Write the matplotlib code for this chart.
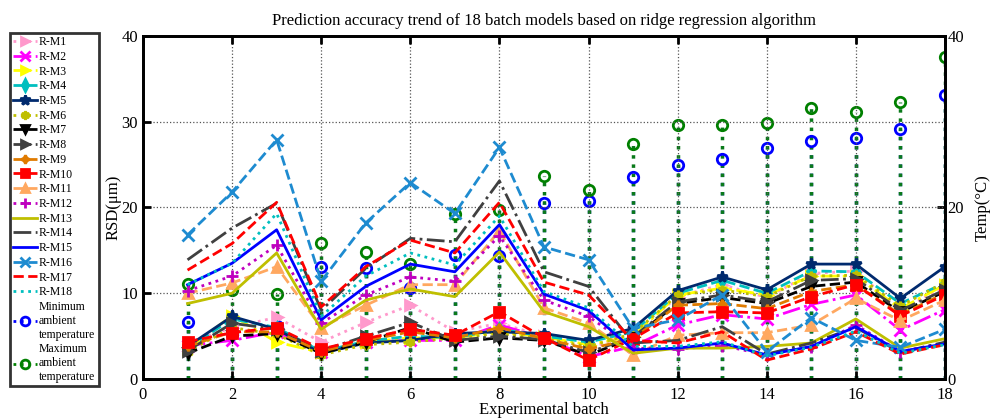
import matplotlib
matplotlib.use("Agg")
import matplotlib.pyplot as plt
import numpy as np

plt.rcParams['font.family'] = ['Liberation Serif', 'DejaVu Serif']
plt.rcParams['mathtext.fontset'] = 'stix'

batches = list(range(1, 19))

M1 = [4.2, 6.0, 7.2, 4.3, 6.6, 8.6, 5.5, 6.5, 5.0, 3.6, 5.2, 9.6, 11.0, 9.5, 12.3, 12.6, 8.0, 10.8]
M2 = [3.9, 4.5, 5.5, 3.2, 4.3, 4.5, 4.5, 6.3, 4.8, 2.6, 3.8, 6.3, 7.5, 7.0, 8.7, 9.8, 5.7, 8.1]
M3 = [3.5, 7.4, 4.3, 3.1, 4.3, 4.8, 4.8, 5.5, 4.9, 4.0, 5.0, 9.8, 10.6, 9.8, 12.0, 12.0, 8.2, 11.0]
M4 = [3.6, 7.0, 6.0, 3.2, 4.4, 5.0, 4.8, 5.8, 5.0, 4.3, 5.5, 10.0, 11.5, 10.0, 12.6, 12.5, 8.8, 11.2]
M5 = [3.8, 7.3, 5.8, 3.0, 4.2, 4.5, 5.3, 5.5, 5.3, 4.5, 5.9, 10.3, 11.9, 10.4, 13.4, 13.4, 9.4, 13.1]
M6 = [3.2, 6.0, 5.2, 2.8, 4.0, 4.3, 4.8, 5.3, 4.7, 3.8, 5.3, 9.8, 10.4, 9.6, 12.0, 12.1, 8.5, 11.3]
M7 = [3.0, 5.0, 5.3, 3.0, 4.3, 6.0, 4.3, 4.8, 4.5, 2.8, 4.8, 8.8, 9.5, 8.8, 10.8, 11.3, 7.8, 10.2]
M8 = [3.3, 6.5, 5.8, 3.3, 5.0, 6.6, 4.5, 5.0, 4.6, 3.1, 4.9, 9.0, 9.8, 9.0, 11.5, 11.7, 8.0, 10.4]
M9 = [3.8, 5.5, 5.5, 3.2, 4.5, 5.5, 4.8, 6.0, 4.7, 3.5, 4.7, 8.6, 8.8, 8.2, 10.2, 11.0, 7.5, 10.0]
M10 = [4.35, 5.4, 6.0, 3.5, 4.7, 5.8, 5.1, 7.85, 4.8, 2.2, 4.7, 7.7, 7.85, 7.7, 9.6, 11.0, 7.35, 9.8]
M11 = [10.0, 11.2, 13.1, 6.0, 8.6, 11.0, 11.0, 17.3, 8.3, 6.5, 2.8, 5.1, 5.4, 5.4, 6.3, 9.4, 6.8, 9.2]
M12 = [10.3, 12.0, 15.6, 6.5, 9.8, 11.9, 11.4, 16.7, 9.2, 7.3, 3.6, 3.5, 3.9, 2.8, 3.7, 6.3, 3.2, 4.2]
M13 = [8.8, 10.0, 14.7, 5.8, 9.2, 10.5, 9.6, 14.8, 7.85, 6.1, 3.0, 3.6, 3.6, 3.8, 4.2, 7.0, 3.6, 4.7]
M14 = [13.9, 17.6, 20.5, 8.0, 12.9, 16.4, 16.0, 23.1, 12.5, 10.8, 4.2, 4.5, 6.1, 2.9, 4.2, 6.0, 3.1, 4.3]
M15 = [11.0, 13.5, 17.4, 6.9, 10.8, 13.4, 12.5, 18.0, 9.9, 8.0, 3.4, 3.6, 4.2, 2.8, 3.8, 6.1, 3.2, 4.1]
M16 = [16.8, 21.8, 27.9, 11.4, 18.2, 22.9, 19.3, 27.0, 15.4, 13.9, 5.9, 6.9, 9.8, 3.2, 7.15, 4.5, 3.7, 5.8]
M17 = [12.7, 15.8, 20.6, 8.4, 13.1, 16.2, 14.7, 20.6, 11.3, 9.8, 4.5, 4.2, 5.5, 2.2, 3.5, 5.5, 2.9, 4.0]
M18 = [11.0, 13.5, 19.3, 7.3, 12.0, 14.7, 13.3, 19.0, 10.2, 8.3, 3.8, 3.8, 4.35, 2.7, 3.7, 5.6, 3.0, 4.0]

temp_min = [6.6, 5.3, 6.2, 13.1, 12.9, 10.6, 14.5, 14.4, 20.5, 20.8, 23.6, 25.0, 25.7, 26.9, 27.7, 28.1, 29.2, 33.1]
temp_max = [11.1, 10.4, 9.9, 15.9, 14.8, 13.4, 19.2, 19.7, 23.7, 22.0, 27.4, 29.6, 29.6, 29.8, 31.6, 31.1, 32.3, 37.5]

series_labels = [f"R-M{i}" for i in range(1, 19)]
series_values = [M1, M2, M3, M4, M5, M6, M7, M8, M9, M10, M11, M12, M13, M14, M15, M16, M17, M18]

styles = [
    dict(color='#ff99cc', ls=':', marker='>'),
    dict(color='#ff00ff', ls='-.', marker='x'),
    dict(color='#ffff00', ls='-.', marker='>'),
    dict(color='#00bfbf', ls='--', marker='d'),
    dict(color='#002a6e', ls='-', marker='*'),
    dict(color='#bfbf00', ls=':', marker=(6, 1, 0)),
    dict(color='#000000', ls='--', marker='v'),
    dict(color='#404040', ls='-.', marker='>'),
    dict(color='#e07b00', ls='--', marker=(4, 1, 0)),
    dict(color='#ff0000', ls='--', marker='s'),
    dict(color='#ffa860', ls='--', marker='^'),
    dict(color='#bf00bf', ls=':', marker='+'),
    dict(color='#bfbf00', ls='-', marker=None),
    dict(color='#404040', ls='-.', marker=None),
    dict(color='#0000ff', ls='-', marker=None),
    dict(color='#1e8bd0', ls='--', marker='x'),
    dict(color='#ff0000', ls='--', marker=None),
    dict(color='#00bfbf', ls=':', marker=None),
]

fig = plt.figure(figsize=(9.95, 4.18), dpi=100)
ax = fig.add_axes([0.1437, 0.0933, 0.8060, 0.8206])
ax2 = ax.twinx()
ax.set_zorder(ax2.get_zorder() + 1)
ax.patch.set_visible(False)

handles = []
for lab, vals, st in zip(series_labels, series_values, styles):
    mk = st['marker']
    h, = ax.plot(batches, vals, color=st['color'], ls=st['ls'], lw=2,
                 marker=mk, markersize=6.5 if mk not in ('+', 'x', '*') else 8,
                 mew=2, label=lab)
    handles.append(h)

# temperature stems on right axis
ax2.vlines(batches, 0, temp_min, colors='#1a3fbf', linestyles=':', lw=2.5)
ax2.vlines(batches, 0, temp_max, colors='#0a7a1a', linestyles=':', lw=2.5)
ax2.plot(batches, temp_min, ls='none', marker='o', markersize=7.5,
         mfc='none', mec='#0000ff', mew=2)
ax2.plot(batches, temp_max, ls='none', marker='o', markersize=7.5,
         mfc='none', mec='#008000', mew=2)
lmin, = ax.plot([], [], color='#0000ff', ls=':', lw=2, marker='o', mfc='none',
                mec='#0000ff', mew=2, markersize=7)
lmax, = ax.plot([], [], color='#008000', ls=':', lw=2, marker='o', mfc='none',
                mec='#008000', mew=2, markersize=7)

ax.set_xlim(0, 18)
ax.set_ylim(0, 40)
ax2.set_ylim(0, 40)
ax.set_xticks(range(0, 19, 2))
ax.set_yticks([0, 10, 20, 30, 40])
ax2.set_yticks([0, 20, 40])
ax.grid(True, ls=':', color='#555555', lw=0.9)
ax.tick_params(direction='in', length=6, width=2, labelsize=12, top=True)
ax.tick_params(axis='x', pad=6)
ax2.tick_params(direction='in', length=6, width=2, labelsize=12, pad=2)
for a in (ax, ax2):
    for s in a.spines.values():
        s.set_linewidth(2)

ax.set_xlabel('Experimental batch', fontsize=12, labelpad=-1)
ax.set_ylabel('RSD(μm)', fontsize=12)
ax.yaxis.set_label_coords(-0.027, 0.5)
ax2.set_ylabel('Temp(°C)', fontsize=12)
ax2.yaxis.set_label_coords(1.037, 0.5)
ax.set_title('Prediction accuracy trend of 18 batch models based on ridge regression algorithm',
             fontsize=12, pad=8)

leg = fig.legend(handles + [lmin, lmax],
                 series_labels + ['Minimum\nambient\ntemperature', 'Maximum\nambient\ntemperature'],
                 loc='upper left', bbox_to_anchor=(0.010, 0.922), fontsize=8.5,
                 frameon=True, fancybox=False, edgecolor='black', handlelength=2.0,
                 handletextpad=0.15, labelspacing=0.23, borderpad=0.3, borderaxespad=0,
                 markerscale=0.9)
leg.get_frame().set_linewidth(2)

fig.savefig('out.png', dpi=100)
